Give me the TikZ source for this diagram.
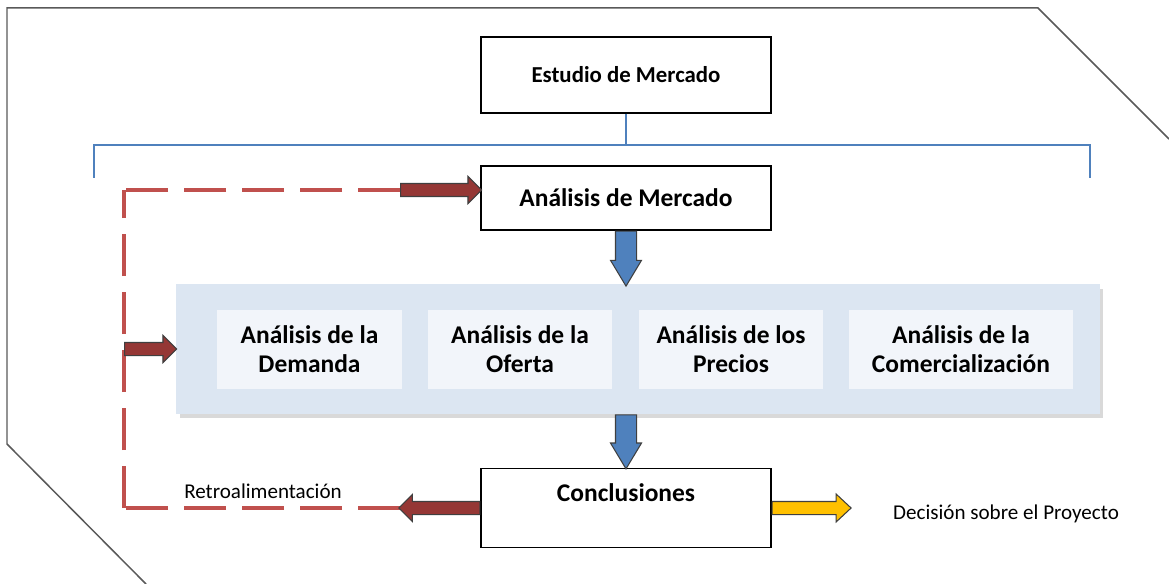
\documentclass[tikz,border=0pt]{standalone}
\usepackage{fontspec}
\setmainfont{Carlito}
\usetikzlibrary{shapes.arrows,shadows}

\definecolor{framegray}{HTML}{595959}
\definecolor{lineblue}{HTML}{4F81BD}
\definecolor{dashred}{HTML}{C0504D}
\definecolor{arrowred}{HTML}{953735}
\definecolor{arrowblue}{HTML}{4F81BD}
\definecolor{arrowyellow}{HTML}{FFC000}
\definecolor{arrowline}{HTML}{3F3F3F}
\definecolor{bandfill}{HTML}{DCE6F2}
\definecolor{cellfill}{HTML}{F2F5FA}

\tikzset{
  mainbox/.style={draw=black, line width=0.7pt, fill=white, minimum width=5.8cm,
    font=\bfseries\fontsize{14.5}{16.5}\selectfont},
  cellbox/.style={fill=cellfill, minimum height=1.58cm, align=center,
    font=\bfseries\fontsize{14.5}{16.5}\selectfont},
  fatarrow/.style={single arrow, draw=arrowline, line width=0.6pt,
    single arrow head indent=0pt, at start, anchor=tail},
  redarrow/.style={fatarrow, fill=arrowred, inner sep=0.12cm, minimum width=0.52cm,
    single arrow head extend=0.14cm, single arrow tip angle=90},
  bluearrow/.style={fatarrow, fill=arrowblue, inner sep=0.2cm, minimum width=0.6cm,
    single arrow head extend=0.1cm, single arrow tip angle=62, shape border rotate=270},
  yellowarrow/.style={fatarrow, fill=arrowyellow, inner sep=0.12cm, minimum width=0.54cm,
    single arrow head extend=0.15cm, single arrow tip angle=86},
  fbdash/.style={dashred, line width=0.09cm, dash pattern=on 0.84cm off 0.32cm},
  bracket/.style={lineblue, line width=0.85pt},
  note/.style={font=\fontsize{12}{14}\selectfont}
}

\begin{document}
\begin{tikzpicture}[x=0.02cm, y=-0.02cm]
\useasboundingbox (0,0) rectangle (1169,584);

% outer frame
\draw[framegray, line width=0.85pt] (146,584) -- (7,444) -- (7,8) -- (1038,8) -- (1169,139);

\node[mainbox, minimum height=1.52cm, font=\bfseries\fontsize{13}{15}\selectfont] (estudio) at (626,75) {Estudio de Mercado};
\node[mainbox, minimum height=1.28cm] (amerc) at (626,198) {Análisis de Mercado};

% bracket
\coordinate (brk) at (626,145);
\coordinate (brkl) at (94,178);
\coordinate (brkr) at (1090,178);
\draw[bracket] (estudio) -- (brk);
\draw[bracket] (brkl) |- (brk) -| (brkr);

% band with the four analyses
\node[fill=bandfill, minimum width=18.48cm, minimum height=2.6cm,
  drop shadow={shadow xshift=0.07cm, shadow yshift=-0.09cm, opacity=0.3}] (band) at (638,349) {};
\foreach \x/\w/\t/\n in {309.5/3.7cm/{Análisis de la\\Demanda}/dem,
                         520/3.68cm/{Análisis de la\\Oferta}/ofe,
                         731/3.68cm/{Análisis de los\\Precios}/pre,
                         961/4.48cm/{Análisis de la\\Comercialización}/com}
  \node[cellbox, minimum width=\w] (\n) at (\x,349.5) {\t};

\node[mainbox, inner ysep=0pt, text height=18.7pt, text depth=26.6pt] (concl) at (626,508) {Conclusiones};

% blue arrows
\path (amerc.south) -- (amerc.south |- band.north) node[bluearrow, minimum height=1.1cm] {};
\path (concl.north |- band.south) -- (concl.north) node[bluearrow, minimum height=1.08cm] {};

% feedback loop
\coordinate (tl) at (124,190);
\coordinate (bl) at (124,508);
\coordinate (fbtop) at (400,190);
\coordinate (fblow) at (400,508);
\draw[fbdash] (fbtop) -- (tl);
\draw[fbdash] (fblow) -- (bl);
\draw[fbdash] (bl) -- (tl);
\path (fbtop) -- (fbtop -| amerc.west) node[redarrow, minimum height=1.62cm] {};
\path (concl.west) -- (fblow) node[redarrow, minimum height=1.62cm, shape border rotate=180] {};
\path (tl |- band.west) -- (band.west) node[redarrow, minimum height=1.04cm] {};

\node[note] (retro) at (263,491) {Retroalimentación};
\node[note] (decision) at (1006,514) {Decisión sobre el Proyecto};
\path (concl.east) -- ++(79,0) node[yellowarrow, minimum height=1.58cm] {};

\end{tikzpicture}
\end{document}
